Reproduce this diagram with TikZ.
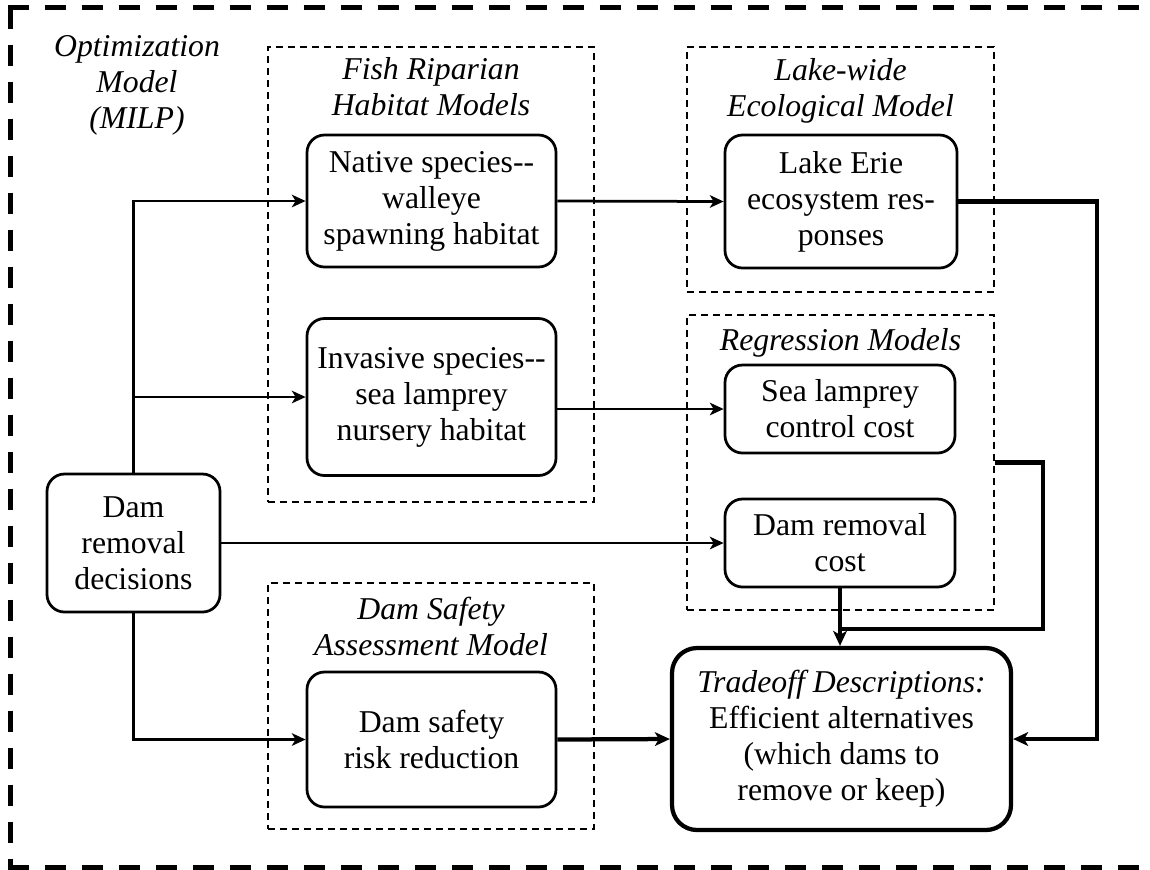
\documentclass[tikz,border=0pt]{standalone}
\usepackage{fontspec}
\setmainfont{Liberation Serif}
\usetikzlibrary{arrows.meta}

\begin{document}
\begin{tikzpicture}[x=0.4pt,y=-0.4pt,
  font=\fontsize{12.7pt}{14.4pt}\selectfont,
  modelbox/.style={draw,line width=1.1pt,rounded corners=7pt,inner sep=0pt,align=center},
  resultbox/.style={draw,line width=1.7pt,rounded corners=10pt,inner sep=0pt,align=center},
  groupbox/.style={draw,line width=0.5pt,dash pattern=on 2.8pt off 2pt,inner sep=0pt},
  grouptitle/.style={font=\fontsize{12.7pt}{14.4pt}\selectfont\itshape,align=center},
  outerline/.style={line width=2pt,dash pattern=on 8.4pt off 6.4pt},
  link/.style={line width=1.1pt,-{Stealth[length=5.5pt,width=5pt,inset=1.5pt]}},
  boldlink/.style={line width=1.7pt,-{Stealth[length=6pt,width=5.5pt,inset=1.6pt]}},
  boldline/.style={line width=1.7pt}]
  \useasboundingbox (0,0) rectangle (1150,869);
  % outer frame (runs off the right edge)
  \draw[outerline] (7.5,7.5) -- (1200,7.5);
  \draw[outerline] (10,7.5) -- (10,867);
  \draw[outerline] (7.5,867) -- (1200,867);
  \node[grouptitle] (optlabel) at (137,85) {Optimization\\Model\\(MILP)};
  % model groups
  \node[groupbox,minimum width=130.4pt,minimum height=182pt] (fish) at (431,274.5) {};
  \node[groupbox,minimum width=122.8pt,minimum height=98pt] (lake) at (840.5,169.5) {};
  \node[groupbox,minimum width=122.8pt,minimum height=118pt] (regression) at (840.5,462.5) {};
  \node[groupbox,minimum width=130.4pt,minimum height=98.4pt] (safetygroup) at (431,706) {};
  \node[grouptitle] (fishtitle) at (431,87) {Fish Riparian\\Habitat Models};
  \node[grouptitle] (laketitle) at (840.5,90.5) {Lake-wide\\Ecological Model};
  \node[grouptitle,anchor=base] (regrtitle) at (840.5,350) {Regression Models};
  \node[grouptitle] (safetytitle) at (431,626) {Dam Safety\\Assessment Model};
  % boxes
  \node[modelbox,minimum width=69.2pt,minimum height=55.2pt] (decisions) at (133.5,543) {Dam\\removal\\decisions};
  \node[modelbox,minimum width=99.6pt,minimum height=52.8pt] (native) at (431.5,201) {Native species-{}-\\walleye\\spawning habitat};
  \node[modelbox,minimum width=99.6pt,minimum height=62.8pt] (invasive) at (431.5,397) {Invasive species-{}-\\sea lamprey\\nursery habitat};
  \node[modelbox,minimum width=92.8pt,minimum height=53.2pt] (lakeerie) at (841,201.5) {Lake Erie\\ecosystem res-\\ponses};
  \node[modelbox,minimum width=92pt,minimum height=35.2pt] (lamprey) at (840,409) {Sea lamprey\\control cost};
  \node[modelbox,minimum width=92pt,minimum height=35.2pt] (removalcost) at (840,543) {Dam removal\\cost};
  \node[modelbox,minimum width=99.6pt,minimum height=54pt] (safety) at (431.5,739.5) {Dam safety\\risk reduction};
  \node[resultbox,minimum width=135.6pt,minimum height=72.8pt] (tradeoff) at (841.5,739) {\textit{Tradeoff Descriptions:}\\Efficient alternatives\\(which dams to\\remove or keep)};
  % connectors
  \coordinate (loopcorner) at (1043,629);
  \coordinate (rightbend) at (1097,739);
  \draw[link] (decisions.north) |- (native.west);
  \draw[link] (decisions.north) |- (invasive.west);
  \draw[link] (decisions.south) |- (safety.west);
  \draw[link] (decisions.east) -- (removalcost.west);
  \draw[link] (native.east) -- (lakeerie.west);
  \draw[link] (invasive.east |- lamprey.west) -- (lamprey.west);
  \draw[boldline] (regression.east) -| (loopcorner) -- (removalcost.south |- loopcorner);
  \draw[boldlink] (removalcost.south) -- (removalcost.south |- tradeoff.north);
  \draw[boldlink] (lakeerie.east) -| (rightbend) -- (tradeoff.east);
  \draw[boldlink] (safety.east) -- (tradeoff.west);
\end{tikzpicture}
\end{document}
